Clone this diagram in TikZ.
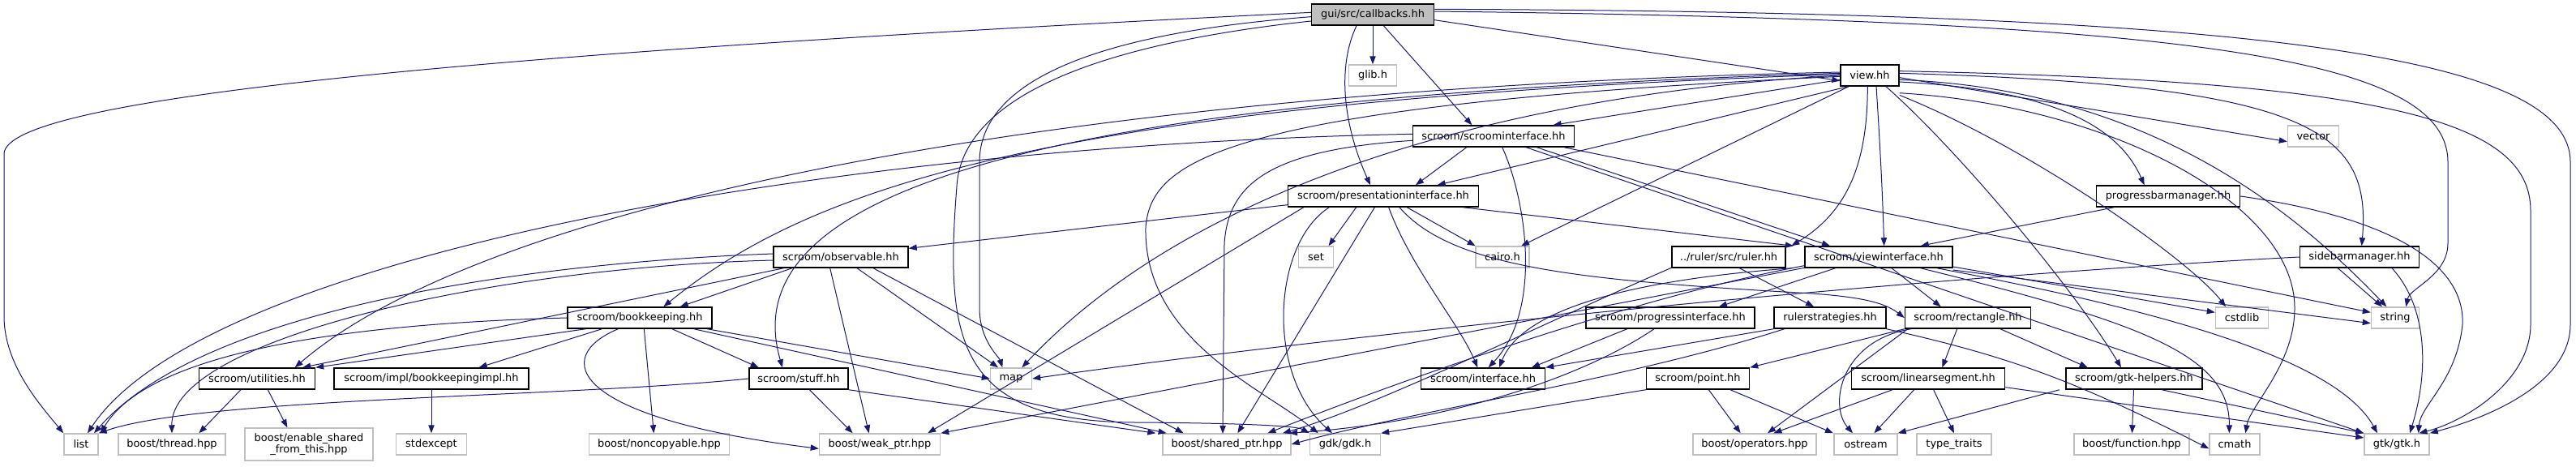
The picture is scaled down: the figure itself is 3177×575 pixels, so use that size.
\documentclass[tikz,border=0pt]{standalone}
\usepackage{fontspec}
\setmainfont{DejaVu Sans}
\usetikzlibrary{arrows.meta}
\definecolor{depEdge}{HTML}{191970}
\definecolor{sysGray}{HTML}{BFBFBF}
\tikzset{
  dg/base/.style={rectangle, minimum width={#1*0.75pt}, minimum height=19.5pt,
    inner sep=0pt, font=\fontsize{9.7}{11}\selectfont, align=center},
  dg/root/.style={dg/base=#1, draw=black, fill=sysGray, line width=1.1pt},
  dg/hdr/.style={dg/base=#1, draw=black, fill=white, line width=1.1pt},
  dg/sys/.style={dg/base=#1, draw=sysGray, fill=white, line width=1.1pt},
  dg/arr/.style={-{Triangle[length=7.5pt,width=5.5pt]}, draw=depEdge,
    line width=0.75pt}
}
\begin{document}
\begin{tikzpicture}[x=0.75pt, y=-0.75pt]
  \useasboundingbox (0,0) rectangle (3177,575);
  % rank 0-2
  \node[dg/root=151] at (1693, 18) (cb)     {gui/src/callbacks.hh};
  \node[dg/sys=59]   at (1693, 93) (glib)   {glib.h};
  \node[dg/hdr=72]   at (2306, 93) (view)   {view.hh};
  \node[dg/hdr=199]  at (1842,168) (si)     {scroom/scroominterface.hh};
  \node[dg/sys=63]   at (2853,168) (vec)    {vector};
  \node[dg/hdr=235]  at (1706,242) (pi)     {scroom/presentationinterface.hh};
  \node[dg/hdr=177]  at (2674,242) (pbm)    {progressbarmanager.hh};
  % rank 3
  \node[dg/hdr=166]  at (1037,317) (obs)    {scroom/observable.hh};
  \node[dg/sys=43]   at (1623,317) (setH)   {set};
  \node[dg/sys=66]   at (1853,317) (cairo)  {cairo.h};
  \node[dg/hdr=140]  at (2132,317) (ruler)  {../ruler/src/ruler.hh};
  \node[dg/hdr=182]  at (2317,317) (vi)     {scroom/viewinterface.hh};
  \node[dg/hdr=147]  at (2910,317) (sbm)    {sidebarmanager.hh};
  % rank 4
  \node[dg/hdr=178]  at (789,392)  (bk)     {scroom/bookkeeping.hh};
  \node[dg/hdr=208]  at (2060,392) (progi)  {scroom/progressinterface.hh};
  \node[dg/hdr=138]  at (2257,392) (rstrat) {rulerstrategies.hh};
  \node[dg/hdr=155]  at (2427,392) (rect)   {scroom/rectangle.hh};
  \node[dg/sys=65]   at (2765,392) (cstdlib){cstdlib};
  \node[dg/sys=59]   at (2954,392) (str)    {string};
  % rank 5
  \node[dg/hdr=143]  at (317,467)  (util)   {scroom/utilities.hh};
  \node[dg/hdr=240]  at (532,467)  (bkimpl) {scroom/impl/bookkeepingimpl.hh};
  \node[dg/hdr=122]  at (985,467)  (stuff)  {scroom/stuff.hh};
  \node[dg/sys=51]   at (1247,467) (mapH)   {map};
  \node[dg/hdr=153]  at (1829,467) (iface)  {scroom/interface.hh};
  \node[dg/hdr=127]  at (2094,467) (point)  {scroom/point.hh};
  \node[dg/hdr=189]  at (2378,467) (lseg)   {scroom/linearsegment.hh};
  \node[dg/hdr=168]  at (2632,467) (gtkh)   {scroom/gtk-helpers.hh};
  % rank 6
  \node[dg/sys=42]   at (100,548)  (listH)  {list};
  \node[dg/sys=132]  at (212,548)  (thread) {boost/thread.hpp};
  \node[dg/sys=158, minimum height=30pt] at (381,548) (eshared)
        {boost/enable\_shared\\\_from\_this.hpp};
  \node[dg/sys=87]   at (532,548)  (stdexc) {stdexcept};
  \node[dg/sys=173]  at (813,548)  (noncopy){boost/noncopyable.hpp};
  \node[dg/sys=149]  at (1085,548) (weakp)  {boost/weak\_ptr.hpp};
  \node[dg/sys=158]  at (1513,548) (sharedp){boost/shared\_ptr.hpp};
  \node[dg/sys=87]   at (1659,548) (gdk)    {gdk/gdk.h};
  \node[dg/sys=152]  at (2164,548) (ops)    {boost/operators.hpp};
  \node[dg/sys=78]   at (2301,548) (ostr)   {ostream};
  \node[dg/sys=92]   at (2410,548) (ttraits){type\_traits};
  \node[dg/sys=142]  at (2629,548) (bfunc)  {boost/function.hpp};
  \node[dg/sys=62]   at (2756,548) (cmath)  {cmath};
  \node[dg/sys=80]   at (2956,548) (gtk)    {gtk/gtk.h};

  % callbacks.hh
  \draw[dg/arr] ([yshift=2]cb.west) .. controls (600,65) and (5,120) .. (5,190)
        -- (5,390) .. controls (5,450) and (50,500) .. (listH.north west);
  \draw[dg/arr] ([yshift=-2]cb.west) .. controls (1300,45) and (1208,120) .. (1208,200)
        -- (1208,380) .. controls (1208,420) and (1232,440) .. ([xshift=-8]mapH.north);
  \draw[dg/arr] ([yshift=-6]cb.west) .. controls (1300,60) and (1185,140) .. (1180,230)
        .. controls (1165,420) and (1180,520) .. (1400,521)
        .. controls (1550,522) and (1600,526) .. (gdk.north west);
  \draw[dg/arr] (cb) -- (glib);
  \draw[dg/arr] ([xshift=-15]cb.south) .. controls (1650,80) and (1655,150) .. ([xshift=-12]pi.north);
  \draw[dg/arr] ([xshift=10]cb.south) -- ([xshift=-20]si.north);
  \draw[dg/arr] ([yshift=-5]cb.east) -- ([yshift=-5]view.west);
  \draw[dg/arr] ([yshift=3]cb.east) .. controls (2700,25) and (3019,70) .. (3019,200)
        -- (3019,300) .. controls (3019,340) and (2972,355) .. ([xshift=10]str.north);
  \draw[dg/arr] ([yshift=5]cb.east) .. controls (2800,15) and (3170,70) .. (3170,200)
        -- (3170,400) .. controls (3170,480) and (3050,520) .. (gtk.north east);

  % view.hh
  \draw[dg/arr] ([yshift=3]view.west) .. controls (1300,110) and (600,250) .. ([xshift=35]util.north);
  \draw[dg/arr] ([yshift=2]view.west) .. controls (1300,120) and (900,230) .. ([xshift=-15]stuff.north);
  \draw[dg/arr] ([yshift=1]view.west) .. controls (1300,125) and (1000,230) .. ([xshift=22]bk.north);
  \draw[dg/arr] ([yshift=0]view.west) .. controls (1800,120) and (1450,250) .. ([xshift=10]mapH.north);
  \draw[dg/arr] ([yshift=-1]view.west) .. controls (1500,130) and (1420,200) .. (1413,280)
        .. controls (1410,420) and (1560,480) .. ([xshift=-25]gdk.north);
  \draw[dg/arr] ([yshift=-4]view.west) -- ([xshift=-20]si.north east);
  \draw[dg/arr] ([xshift=-20]view.south) -- ([xshift=50]pi.north);
  \draw[dg/arr] ([xshift=8]view.south west) -- ([xshift=-8]cairo.north east);
  \draw[dg/arr] ([xshift=-2]view.south) .. controls (2303,200) and (2280,260) .. ([xshift=58]ruler.north);
  \draw[dg/arr] ([xshift=6]view.south) .. controls (2320,200) and (2322,250) .. ([xshift=5]vi.north);
  \draw[dg/arr] ([xshift=15]view.south) .. controls (2420,190) and (2560,360) .. ([xshift=-12]gtkh.north);
  \draw[dg/arr] ([yshift=-2]view.east) -- ([yshift=-5]vec.west);
  \draw[dg/arr] ([yshift=-6]view.east) .. controls (2520,110) and (2610,150) .. ([xshift=-22]pbm.north);
  \draw[dg/arr] ([yshift=2]view.east) .. controls (2850,105) and (2925,160) .. ([xshift=2]sbm.north);
  \draw[dg/arr] ([yshift=-8]view.south east) .. controls (2500,180) and (2700,320) .. ([xshift=-15]cstdlib.north);
  \draw[dg/arr] ([yshift=-4]view.east) .. controls (2650,110) and (2830,260) .. ([xshift=-8]str.north);
  \draw[dg/arr] ([yshift=4]view.east) .. controls (2950,100) and (3121,150) .. (3121,260)
        -- (3121,400) .. controls (3121,470) and (3040,520) .. ([xshift=-10]gtk.north east);
  \draw[dg/arr] ([yshift=-6]view.south east) .. controls (2600,130) and (2830,250) .. (2830,380)
        .. controls (2830,450) and (2775,500) .. ([xshift=10]cmath.north);

  % scroom/scroominterface.hh
  \draw[dg/arr] ([yshift=2]si.west) .. controls (1000,180) and (250,320) .. ([xshift=6]listH.north);
  \draw[dg/arr] ([yshift=-4]si.west) .. controls (1560,185) and (1515,230) .. (1510,300)
        -- (1508,535);
  \draw[dg/arr] ([xshift=-25]si.south) -- ([xshift=30]pi.north);
  \draw[dg/arr] ([xshift=8]si.south) .. controls (1880,240) and (1905,380) .. ([xshift=5]iface.north);
  \draw[dg/arr] ([xshift=40]si.south) -- ([xshift=-45]vi.north);
  \draw[dg/arr] ([xshift=-10]si.south east) -- ([yshift=5]str.west);
  \draw[dg/arr] ([xshift=-45]si.south east) -- (gtk.north west);

  % scroom/presentationinterface.hh
  \draw[dg/arr] ([yshift=-8]pi.west) -- ([yshift=8]obs.east);
  \draw[dg/arr] ([xshift=-25]pi.south) -- ([xshift=-5]setH.north east);
  \draw[dg/arr] ([xshift=22]pi.south) -- ([xshift=-25]cairo.north);
  \draw[dg/arr] ([xshift=15]pi.south west) -- ([xshift=-12]weakp.north east);
  \draw[dg/arr] ([xshift=-8]pi.south) -- ([xshift=10]sharedp.north);
  \draw[dg/arr] ([xshift=-50]pi.south) .. controls (1570,300) and (1560,460) .. ([xshift=-12]gdk.north);
  \draw[dg/arr] ([xshift=5]pi.south) .. controls (1740,330) and (1800,400) .. ([xshift=-5]iface.north);
  \draw[dg/arr] ([xshift=-15]pi.south east) -- ([xshift=-10]vi.north west);
  \draw[dg/arr] ([xshift=15]pi.south) .. controls (1790,330) and (1950,345) .. (2200,360)
        .. controls (2280,364) and (2320,370) .. (rect.west);

  % scroom/observable.hh
  \draw[dg/arr] ([yshift=3]obs.west) .. controls (700,322) and (260,370) .. ([xshift=12]listH.north);
  \draw[dg/arr] ([yshift=-3]obs.west) .. controls (600,330) and (210,420) .. (thread.north);
  \draw[dg/arr] ([xshift=10]obs.south west) -- ([xshift=-12]util.north east);
  \draw[dg/arr] ([xshift=-45]obs.south) -- ([xshift=-30]bk.north east);
  \draw[dg/arr] ([xshift=15]obs.south) -- ([xshift=-12]mapH.north);
  \draw[dg/arr] ([xshift=-10]obs.south) -- ([xshift=-10]weakp.north);
  \draw[dg/arr] ([xshift=30]obs.south) -- ([xshift=-40]sharedp.north);

  % scroom/bookkeeping.hh
  \draw[dg/arr] (bk.west) .. controls (400,400) and (180,440) .. ([xshift=18]listH.north);
  \draw[dg/arr] ([xshift=-50]bk.south) -- (util.north east);
  \draw[dg/arr] ([xshift=-35]bk.south) -- ([xshift=44]bkimpl.north);
  \draw[dg/arr] ([xshift=4]bk.south) -- ([xshift=-5]noncopy.north);
  \draw[dg/arr] ([xshift=30]bk.south) -- ([xshift=-37]stuff.north);
  \draw[dg/arr] ([xshift=-5]bk.south east) -- (mapH.west);
  \draw[dg/arr] ([xshift=-20]bk.south) .. controls (680,440) and (700,515) .. ([yshift=-4]weakp.west);
  \draw[dg/arr] ([xshift=50]bk.south) -- ([xshift=4]sharedp.north west);

  % scroom/utilities.hh, bookkeepingimpl.hh, stuff.hh
  \draw[dg/arr] ([xshift=-15]util.south) -- ([xshift=25]thread.north);
  \draw[dg/arr] ([xshift=10]util.south) -- ([xshift=-20]eshared.north);
  \draw[dg/arr] (bkimpl) -- (stdexc);
  \draw[dg/arr] (stuff.west) .. controls (700,490) and (250,490) .. (listH.north east);
  \draw[dg/arr] ([xshift=10]stuff.south) -- ([xshift=-25]weakp.north);
  \draw[dg/arr] (stuff.south east) -- ([xshift=-6]sharedp.north west);

  % ruler, viewinterface, progress / ruler strategies
  \draw[dg/arr] ([yshift=-10]ruler.west) .. controls (1900,400) and (1700,500) .. ([xshift=-8]sharedp.north east);
  \draw[dg/arr] ([xshift=10]ruler.south) -- ([xshift=-15]rstrat.north);
  \draw[dg/arr] ([xshift=-40]vi.south) -- ([xshift=45]progi.north);
  \draw[dg/arr] ([xshift=12]vi.south) -- ([xshift=-25]rect.north);
  \draw[dg/arr] ([xshift=-80]vi.south) .. controls (1950,350) and (1870,400) .. ([xshift=15]iface.north);
  \draw[dg/arr] ([yshift=-8]vi.west) .. controls (2000,370) and (1700,480) .. ([xshift=-22]sharedp.north east);
  \draw[dg/arr] ([yshift=-10]vi.west) -- (weakp.north east);
  \draw[dg/arr] ([yshift=-9]vi.east) -- ([yshift=5]cstdlib.west);
  \draw[dg/arr] ([yshift=-12]vi.east) -- ([yshift=-5]str.west);
  \draw[dg/arr] ([xshift=-30]vi.south east) .. controls (2650,400) and (2750,440) .. ([xshift=-5]cmath.north);
  \draw[dg/arr] ([xshift=-15]vi.south east) .. controls (2650,380) and (2880,440) .. ([xshift=-18]gtk.north);
  \draw[dg/arr] ([xshift=-40]progi.south) -- ([xshift=45]iface.north);
  \draw[dg/arr] ([xshift=-15]progi.south) .. controls (1960,460) and (1800,520) .. ([xshift=-2]sharedp.north east);
  \draw[dg/arr] (rstrat.south west) -- (iface.north east);
  \draw[dg/arr] ([xshift=10]rstrat.south west) .. controls (2000,470) and (1750,505) .. (sharedp.east);
  \draw[dg/arr] (rstrat.south east) .. controls (2480,440) and (2560,470) .. ([yshift=-4]cmath.west);

  % progressbarmanager.hh, sidebarmanager.hh
  \draw[dg/arr] ([xshift=-50]pbm.south) -- ([xshift=-30]vi.north east);
  \draw[dg/arr] (pbm.east) .. controls (2960,270) and (3040,330) .. (3037,400)
        .. controls (3030,470) and (2985,500) .. ([xshift=20]gtk.north);
  \draw[dg/arr] ([xshift=-20]sbm.south) -- ([xshift=-12]str.north);
  \draw[dg/arr] ([xshift=30]sbm.south) .. controls (2995,380) and (2995,460) .. ([xshift=12]gtk.north);
  \draw[dg/arr] (sbm.west) .. controls (2300,345) and (1600,420) .. (mapH.east);

  % scroom/rectangle.hh
  \draw[dg/arr] (rect.south west) -- (point.north east);
  \draw[dg/arr] ([xshift=-10]rect.south) -- ([xshift=13]lseg.north);
  \draw[dg/arr] ([xshift=30]rect.south) -- ([xshift=-43]gtkh.north);
  \draw[dg/arr] ([xshift=3]rect.south west) -- ([xshift=12]ops.north);
  \draw[dg/arr] ([xshift=6]rect.south west) .. controls (2270,420) and (2255,500) .. ([xshift=-12]ostr.north);

  % scroom/point.hh, linearsegment.hh, gtk-helpers.hh
  \draw[dg/arr] ([xshift=10]point.south) -- ([xshift=-13]ops.north);
  \draw[dg/arr] ([xshift=30]point.south) -- ([xshift=-30]ostr.north);
  \draw[dg/arr] (point.south west) -- (gdk.north east);
  \draw[dg/arr] ([xshift=-33]lseg.south) -- ([xshift=-40]ops.north east);
  \draw[dg/arr] ([xshift=-13]lseg.south) -- ([xshift=-22]ostr.north east);
  \draw[dg/arr] ([xshift=5]lseg.south) -- (ttraits.north);
  \draw[dg/arr] ([yshift=-8]lseg.east) -- ([yshift=6]gtk.west);
  \draw[dg/arr] (gtkh) -- (bfunc);
  \draw[dg/arr] ([xshift=-69]gtkh.south) -- (ostr.north east);
  \draw[dg/arr] ([xshift=-38]gtkh.south east) -- (gtk.north west);
\end{tikzpicture}
\end{document}
